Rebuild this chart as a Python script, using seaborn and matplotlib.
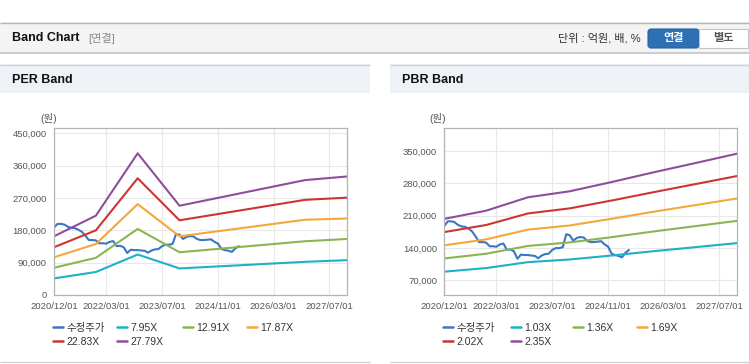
import matplotlib.pyplot as plt
import pandas as pd
import seaborn as sns
from matplotlib.lines import Line2D
from matplotlib.legend import Legend
from matplotlib.patches import Rectangle, FancyBboxPatch

# ---- data ----
price_name = "수정주가"
price_start = "2020-12-01"
price = [188000, 198000, 198000, 196000, 190000, 187000, 186000, 182000, 176000, 165000,
         153000, 153000, 152000, 144000, 144000, 143000, 148000, 150000, 136000, 137000,
         133000, 117000, 126000, 125000, 125000, 124000, 123000, 118000, 124000, 127000,
         128000, 136000, 140000, 140000, 142000, 170000, 168000, 156000, 162000, 164000,
         163000, 156000, 153000, 153000, 154000, 155000, 148000, 143000, 128000, 125000,
         123000, 120000, 130000, 136000]

per_dates = ["2020-12-01", "2021-12-01", "2022-12-01", "2023-12-01", "2026-12-01", "2027-12-01"]
per_names = ["7.95X", "12.91X", "17.87X", "22.83X", "27.79X"]
per_795 = [46200, 64000, 112700, 74000, 92400, 97000]
per_1291 = [75800, 103500, 184000, 119000, 149700, 156000]
per_1787 = [105000, 142000, 253000, 163500, 209600, 213000]
per_2283 = [133000, 180000, 325000, 208000, 265000, 271000]
per_2779 = [163500, 220800, 394500, 248600, 320000, 330000]

pbr_dates = ["2020-12-01", "2021-12-01", "2022-12-01", "2023-12-01",
             "2024-12-01", "2025-12-01", "2026-12-01", "2027-12-01"]
pbr_names = ["1.03X", "1.36X", "1.69X", "2.02X", "2.35X"]
pbr_103 = [89000, 96800, 109600, 115400, 124000, 133300, 142000, 150800]
pbr_136 = [117600, 127800, 144700, 152300, 163700, 176000, 187500, 199000]
pbr_169 = [146000, 159000, 180000, 189000, 203500, 218700, 233000, 247400]
pbr_202 = [174700, 190000, 215000, 226000, 243000, 261000, 278500, 296000]
pbr_235 = [203300, 221000, 250000, 263000, 283000, 304000, 324000, 344400]

tick_dates = ["2020-12-01", "2022-03-01", "2023-07-01", "2024-11-01", "2026-03-01", "2027-07-01"]
tick_labels = ["2020/12/01", "2022/03/01", "2023/07/01", "2024/11/01", "2026/03/01", "2027/07/01"]
per_yticks = [0, 90000, 180000, 270000, 360000, 450000]
pbr_yticks = [70000, 140000, 210000, 280000, 350000]

colors = ["#3a76c3", "#1db1c5", "#8cb453", "#f4a73a", "#cd3434", "#8d4e9c"]
# -----------------------------


def long_frame(dates, names, bands):
    rows = []
    pdates = pd.date_range(price_start, periods=len(price), freq="MS")
    for d, v in zip(pdates, price):
        rows.append((d, v, price_name))
    for name, vals in zip(names, bands):
        for d, v in zip(pd.to_datetime(dates), vals):
            rows.append((d, v, name))
    return pd.DataFrame(rows, columns=["date", "value", "series"])


def draw(ax, df, order, yticks, ylim):
    sns.lineplot(data=df, x="date", y="value", hue="series", hue_order=order,
                 palette=colors, ax=ax, legend=False, linewidth=1.5, estimator=None)
    ax.set_xlim(pd.Timestamp("2020-12-01"), pd.Timestamp("2027-12-01"))
    ax.set_ylim(*ylim)
    ax.set_xticks(pd.to_datetime(tick_dates))
    ax.set_xticklabels(tick_labels)
    ax.set_yticks(yticks)
    ax.set_yticklabels([f"{v:,}" for v in yticks])
    ax.set_xlabel("")
    ax.set_ylabel("")
    ax.grid(True, color="#e8e8e8", linewidth=0.8)
    ax.set_axisbelow(True)
    for s in ax.spines.values():
        s.set_color("#b4b4b4")
        s.set_linewidth(0.9)
    ax.tick_params(length=3, width=0.8, color="#b4b4b4", labelsize=6.8,
                   labelcolor="#555555", pad=2.2)


sns.set_style("white")
plt.rcParams["font.family"] = ["Liberation Sans", "Noto Sans CJK KR"]

fig = plt.figure(figsize=(7.49, 3.64), dpi=100)
bg = fig.add_axes([0, 0, 1, 1], zorder=0)
bg.set_xlim(0, 749)
bg.set_ylim(364, 0)
bg.axis("off")

# top header
bg.add_patch(Rectangle((0, 22), 749, 31, fc="#f4f4f4", ec="none"))
bg.hlines(22.5, 0, 749, color="#b4b4b4", lw=1)
bg.hlines(53, 0, 749, color="#c4c4c4", lw=1.2)
bg.text(12, 38, "Band Chart", fontsize=9, fontweight="bold", va="center", color="#111111")
bg.text(88, 38, "[연결]", fontsize=8, va="center", color="#8a8a8a")
bg.text(641, 38, "단위 : 억원, 배, %", fontsize=8, va="center", ha="right", color="#333333")
bg.add_patch(FancyBboxPatch((648, 29), 51, 19, boxstyle="round,pad=0,rounding_size=3",
                            fc="#2f70b4", ec="#2a63a0", lw=0.8))
bg.add_patch(Rectangle((699, 29), 49, 19, fc="white", ec="#c4c4c4", lw=0.8))
bg.text(673.5, 38.5, "연결", fontsize=8, fontweight="bold", ha="center", va="center", color="white")
bg.text(723, 38.5, "별도", fontsize=8, fontweight="bold", ha="center", va="center", color="#555555")

# panels
for x0, w, title in [(0, 370, "PER Band"), (390, 359, "PBR Band")]:
    bg.add_patch(Rectangle((x0, 64), w, 29, fc="#eef2f7", ec="none"))
    bg.hlines(64.5, x0, x0 + w, color="#d2d2d2", lw=1)
    bg.hlines(362, x0, x0 + w, color="#d2d2d2", lw=1)
    bg.text(x0 + 12, 80, title, fontsize=9, fontweight="bold", va="center", color="#111111")

bg.text(49, 118, "(원)", fontsize=7.5, ha="center", va="center", color="#555555")
bg.text(438, 118, "(원)", fontsize=7.5, ha="center", va="center", color="#555555")

ax1 = fig.add_axes([54 / 749, 1 - 295 / 364, 293 / 749, 167 / 364], zorder=1)
ax2 = fig.add_axes([444.3 / 749, 1 - 295 / 364, 292.7 / 749, 167 / 364], zorder=1)

per_df = long_frame(per_dates, per_names, [per_795, per_1291, per_1787, per_2283, per_2779])
pbr_df = long_frame(pbr_dates, pbr_names, [pbr_103, pbr_136, pbr_169, pbr_202, pbr_235])

draw(ax1, per_df, [price_name] + per_names, per_yticks, (0, 465000))
draw(ax2, pbr_df, [price_name] + pbr_names, pbr_yticks, (38500, 400000))

# legends, one per column
def legends(names, xs):
    labels = [price_name] + names
    cols = [[0, 4], [1, 5], [2], [3]]
    for x, idx in zip(xs, cols):
        handles = [Line2D([], [], color=colors[i], lw=1.8) for i in idx]
        leg = Legend(bg, handles, [labels[i] for i in idx], loc="upper left",
                     bbox_to_anchor=(x, 323), bbox_transform=bg.transData,
                     frameon=False, fontsize=7.5, handlelength=1.0,
                     handletextpad=0.3, borderpad=0, borderaxespad=0,
                     labelspacing=0.35, labelcolor="#333333")
        bg.add_artist(leg)

legends(per_names, [53, 117, 183, 247])
legends(pbr_names, [442.7, 511, 572.7, 637])

fig.savefig("out.png", dpi=100)
